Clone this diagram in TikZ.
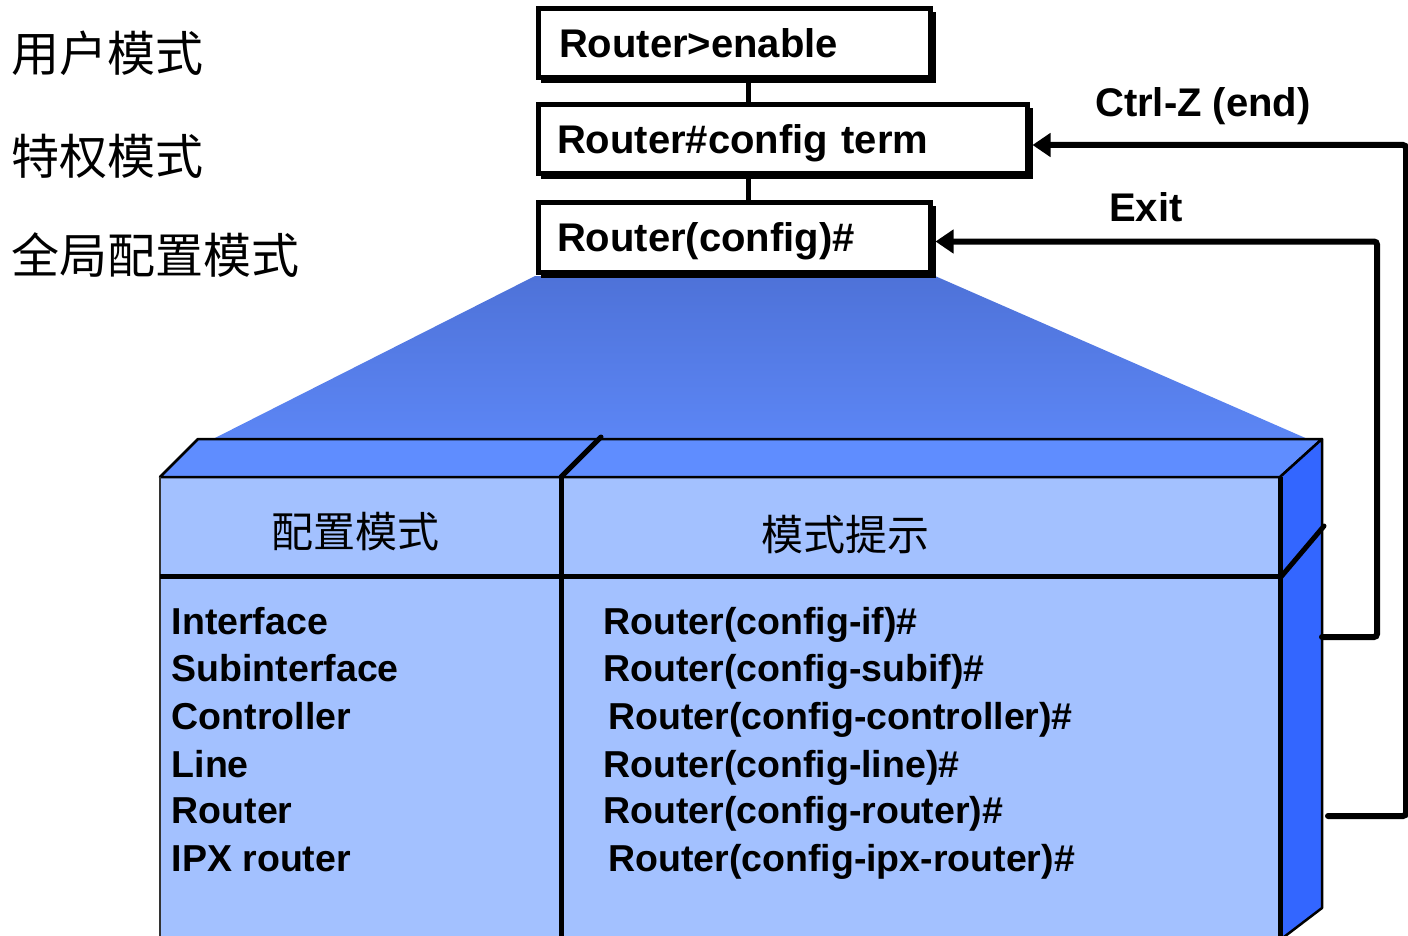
\documentclass[tikz,border=0pt]{standalone}
\usepackage{fontspec}
\setmainfont{Liberation Sans}
\newfontfamily\cjk{Noto Sans CJK SC}
\usetikzlibrary{arrows.meta,calc}
\definecolor{frontc}{HTML}{A3C1FF}
\definecolor{topc}{HTML}{5F8DFF}
\definecolor{sidec}{HTML}{3366FF}
\definecolor{trapt}{HTML}{4E72D8}
\definecolor{trapb}{HTML}{5C86F5}
\begin{document}
\begin{tikzpicture}[x=1pt,y=-1pt,
  cmdbox/.style={draw, line width=5pt, fill=white, inner xsep=19pt, inner ysep=0pt,
    outer sep=0pt, minimum height=69pt, align=left, anchor=north west,
    font=\bfseries\fontsize{40}{44}\selectfont, text height=36pt, text depth=8pt},
  shadowline/.style={line width=5pt},
  conn/.style={line width=6pt, rounded corners=3pt, line cap=round},
  arrowtip/.style={-{Triangle[length=18pt,width=23pt]}},
  listtext/.style={anchor=base west, inner sep=0pt, font=\bfseries\fontsize{37.5}{40}\selectfont},
  lbltext/.style={anchor=base west, inner sep=0pt, font=\bfseries\fontsize{40}{44}\selectfont},
  modetext/.style={anchor=west, inner sep=0pt, font=\cjk\fontsize{48}{52}\selectfont},
  headtext/.style={inner sep=0pt, font=\cjk\fontsize{42}{46}\selectfont},
  thick3d/.style={line width=5pt},
  thin3d/.style={line width=2.5pt, line join=round}
]
\useasboundingbox (0,0) rectangle (1408,936);
\clip (0,0) rectangle (1408,936);

% gradient trapezoid
\shade[top color=trapt, bottom color=trapb] (535,276) -- (935,276) -- (1310,440) -- (211,440) -- cycle;

% 3D box
\fill[frontc] (160,477) rectangle (1280,960);
\filldraw[thin3d, fill=topc] (160,477) -- (198,439) -- (1322,439) -- (1280,477) -- cycle;
\filldraw[thin3d, fill=sidec] (1280,477) -- (1322,439) -- (1322,908) -- (1280,940) -- cycle;
\draw[line width=2pt, black!80] (160,960) -- (160,477);
\draw[thick3d] (1280,477) -- (1280,960);
\draw[thick3d] (160,576) -- (1280,576);
\draw[thick3d] (561,477) -- (561,960);
\draw[thick3d, line cap=round] (561,477) -- (601,437);
\draw[thick3d, line cap=round] (1280,578) -- (1324,526);

% headers
\node[headtext] (h1) at (355,532) {配置模式};
\node[headtext] (h2) at (845,535) {模式提示};

% list texts
\node[listtext] (l1) at (171.5,634) {Interface};
\node[listtext] (l2) at (171.5,681) {Subinterface};
\node[listtext] (l3) at (171.5,729) {Controller};
\node[listtext] (l4) at (171.5,777) {Line};
\node[listtext] (l5) at (171.5,823) {Router};
\node[listtext] (l6) at (171.5,871) {IPX router};
\node[listtext] (r1) at (603,634) {Router(config-if)\#};
\node[listtext] (r2) at (603,681) {Router(config-subif)\#};
\node[listtext] (r3) at (608,729) {Router(config-controller)\#};
\node[listtext] (r4) at (603,777) {Router(config-line)\#};
\node[listtext] (r5) at (603,823) {Router(config-router)\#};
\node[listtext] (r6) at (608,871) {Router(config-ipx-router)\#};

% command boxes
\node[cmdbox, text width=350pt, inner xsep=21pt] (b1) at (538,9) {Router>enable};
\node[cmdbox, text width=451pt] (b2) at (538,105) {Router\#config term};
\node[cmdbox, text width=354pt] (b3) at (538,203) {Router(config)\#};
\draw[shadowline] ($(b1.south west)+(3,3)$) -| ($(b1.north east)+(3,3)$);
\draw[shadowline] ($(b2.south west)+(3,3)$) -| ($(b2.north east)+(3,3)$);
\draw[shadowline] ($(b3.south west)+(3,3)$) -| ($(b3.north east)+(3,3)$);

\coordinate (vx) at (748,0);
\draw[line width=5pt] (b1.south -| vx) -- (b2.north -| vx);
\draw[line width=5pt] (b2.south -| vx) -- (b3.north -| vx);

% mode labels
\node[modetext] (m1) at (11,53) {用户模式};
\node[modetext] (m2) at (11,156) {特权模式};
\node[modetext] (m3) at (11,255) {全局配置模式};

% return arrows
\coordinate (czs) at (1328,816);
\coordinate (czv) at (1406,0);
\coordinate (cze) at ($(b2.east)+(5.5,5.5)$);
\draw[conn, arrowtip] (czs) -| (cze -| czv) -- (cze);
\coordinate (exs) at (1322,637);
\coordinate (exv) at (1377,0);
\coordinate (exe) at ($(b3.east)+(5.5,4)$);
\draw[conn, arrowtip] (exs) -| (exe -| exv) -- (exe);

\node[lbltext] (lz) at (1095,117) {Ctrl-Z (end)};
\node[lbltext] (lx) at (1109,222) {Exit};
\end{tikzpicture}
\end{document}
